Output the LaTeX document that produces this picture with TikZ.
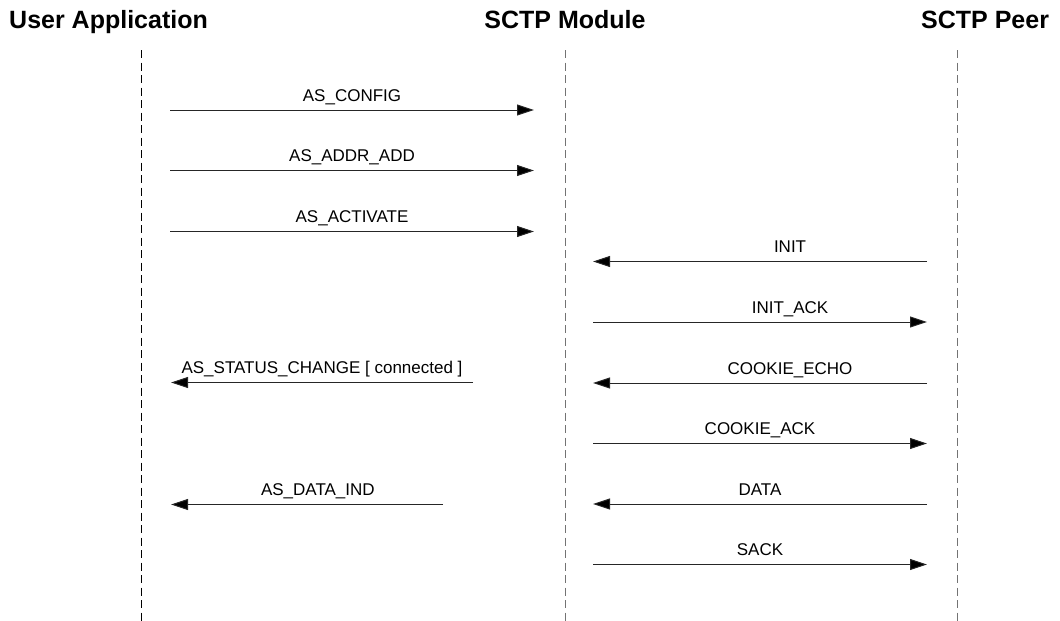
\documentclass[tikz,border=0pt]{standalone}
\usepackage{fontspec}
\setmainfont{Liberation Sans}
\usetikzlibrary{arrows.meta}
\begin{document}
\begin{tikzpicture}[x=1pt,y=-1pt,
  hdr/.style={font=\fontsize{25}{29}\selectfont\bfseries, inner sep=0pt},
  lifeline/.style={line width=1pt, dash pattern=on 8pt off 4.5pt},
  msg/.style={line width=1pt, draw=black!85, -{Triangle[length=17pt,width=11pt,fill=black]}},
  lbl/.style={font=\fontsize{17}{20}\selectfont, anchor=base, inner sep=0pt, yshift=9pt}]
\useasboundingbox (0,0) rectangle (1060,621);
% headers
\node[hdr, anchor=base west] (ua) at (9,28) {User Application};
\node[hdr, anchor=base] (sm) at (565,28) {SCTP Module};
\node[hdr, anchor=base west] (sp) at (921,28) {SCTP Peer};
% lifelines
\coordinate (uaT) at (141,50); \coordinate (uaB) at (141,621);
\coordinate (smT) at (565,50); \coordinate (smB) at (565,621);
\coordinate (spT) at (957,50); \coordinate (spB) at (957,621);
\draw[lifeline, draw=black] (uaT) -- (uaB);
\draw[lifeline, draw=black!55] (smT) -- (smB);
\draw[lifeline, draw=black!55] (spT) -- (spB);
% message end points
\coordinate (m1a) at (170,110);   \coordinate (m1b) at (534,110);
\coordinate (m2a) at (170,170.5); \coordinate (m2b) at (534,170.5);
\coordinate (m3a) at (170,231.5); \coordinate (m3b) at (534,231.5);
\coordinate (m4a) at (927,261.5); \coordinate (m4b) at (593,261.5);
\coordinate (m5a) at (593,322);   \coordinate (m5b) at (927,322);
\coordinate (m6a) at (473,382.5); \coordinate (m6b) at (171,382.5);
\coordinate (m7a) at (927,383);   \coordinate (m7b) at (593,383);
\coordinate (m8a) at (593,443.5); \coordinate (m8b) at (927,443.5);
\coordinate (m9a) at (927,504);   \coordinate (m9b) at (593,504);
\coordinate (m10a) at (443,504.5); \coordinate (m10b) at (171,504.5);
\coordinate (m11a) at (593,564.5); \coordinate (m11b) at (927,564.5);
% messages
\draw[msg] (m1a) -- node[lbl, pos=0.5] (l1) {AS\_CONFIG} (m1b);
\draw[msg] (m2a) -- node[lbl, pos=0.5] (l2) {AS\_ADDR\_ADD} (m2b);
\draw[msg] (m3a) -- node[lbl, pos=0.5] (l3) {AS\_ACTIVATE} (m3b);
\draw[msg] (m4a) -- node[lbl, pos=0.41] (l4) {INIT} (m4b);
\draw[msg] (m5a) -- node[lbl, pos=0.59] (l5) {INIT\_ACK} (m5b);
\draw[msg] (m6a) -- node[lbl, pos=0.5] (l6) {AS\_STATUS\_CHANGE [ connected ]} (m6b);
\draw[msg] (m7a) -- node[lbl, pos=0.41] (l7) {COOKIE\_ECHO} (m7b);
\draw[msg] (m8a) -- node[lbl, pos=0.5] (l8) {COOKIE\_ACK} (m8b);
\draw[msg] (m9a) -- node[lbl, pos=0.5] (l9) {DATA} (m9b);
\draw[msg] (m10a) -- node[lbl, pos=0.46] (l10) {AS\_DATA\_IND} (m10b);
\draw[msg] (m11a) -- node[lbl, pos=0.5] (l11) {SACK} (m11b);
\end{tikzpicture}
\end{document}
